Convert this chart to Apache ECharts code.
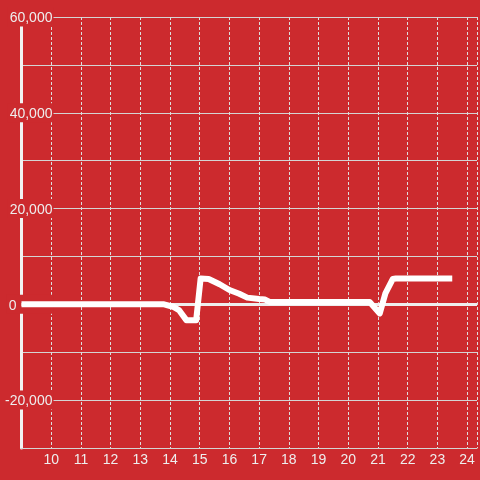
<!DOCTYPE html>
<html><head><meta charset="utf-8">
<script src="https://cdn.jsdelivr.net/npm/echarts@6/dist/echarts.min.js"></script>
<style>html,body{margin:0;padding:0;background:#cc2a2e;}#c{width:480px;height:480px;}</style>
</head><body><div id="c"></div>
<script>
// Hour of day (x) and value (y) for the single series
const xValues = [9, 13.8, 14.1, 14.3, 14.55, 14.88, 15.03, 15.3, 15.67, 16.0, 16.33, 16.6, 17.0, 17.2, 17.35, 20.72, 21.06, 21.25, 21.5, 21.6, 23.5];
const yValues = [0, 0, -500, -1200, -3300, -3300, 5400, 5300, 4200, 3000, 2200, 1400, 1100, 1000, 500, 500, -1900, 2300, 5300, 5400, 5400];
const xTicks = [10, 11, 12, 13, 14, 15, 16, 17, 18, 19, 20, 21, 22, 23, 24];
const yTickLabels = [60000, 40000, 20000, 0, -20000];

const bg = '#cc2a2e';
const chart = echarts.init(document.getElementById('c'));
chart.setOption({
  backgroundColor: bg,
  animation: false,
  grid: {left: 20, right: 0, top: 17, bottom: 32, containLabel: false},
  xAxis: {
    type: 'value', min: 9, max: 24.333, interval: 1,
    axisLine: {show: true, onZero: false, lineStyle: {color: '#d4d4d4', width: 1}},
    axisTick: {show: false},
    splitLine: {show: true, lineStyle: {color: '#dddddd', width: 1, type: [3, 2]}},
    axisLabel: {
      color: '#eeeeee', fontSize: 14, fontFamily: 'Liberation Sans, Arial', margin: 5,
      formatter: v => xTicks.includes(Math.round(v * 1000) / 1000) ? String(v) : ''
    }
  },
  yAxis: {
    type: 'value', min: -30000, max: 60000, interval: 10000,
    axisLine: {show: true, lineStyle: {color: '#f2f2f2', width: 3}},
    axisTick: {show: false},
    splitLine: {show: true, lineStyle: {color: '#d4d4d4', width: 1}},
    axisLabel: {
      color: '#eeeeee', fontSize: 14, fontFamily: 'Liberation Sans, Arial', margin: -32,
      backgroundColor: bg, padding: [4, 1, 1, 2],
      formatter: v => {
        if (!yTickLabels.includes(v)) return '';
        if (v === 0) return '{z|0}';
        return v.toLocaleString('en-US');
      },
      rich: {z: {color: '#eeeeee', fontSize: 14, fontFamily: 'Liberation Sans, Arial', padding: [0, 36, 0, 0]}}
    }
  },
  series: [{
    type: 'line',
    data: xValues.map((x, i) => [x, yValues[i]]),
    showSymbol: false,
    lineStyle: {color: '#ffffff', width: 6, join: 'round'},
    markLine: {
      silent: true, symbol: 'none', label: {show: false},
      lineStyle: {color: '#eeeeee', width: 3, type: 'solid'},
      data: [{yAxis: 0}],
      z: 1
    },
    z: 3
  }]
});
</script></body></html>
